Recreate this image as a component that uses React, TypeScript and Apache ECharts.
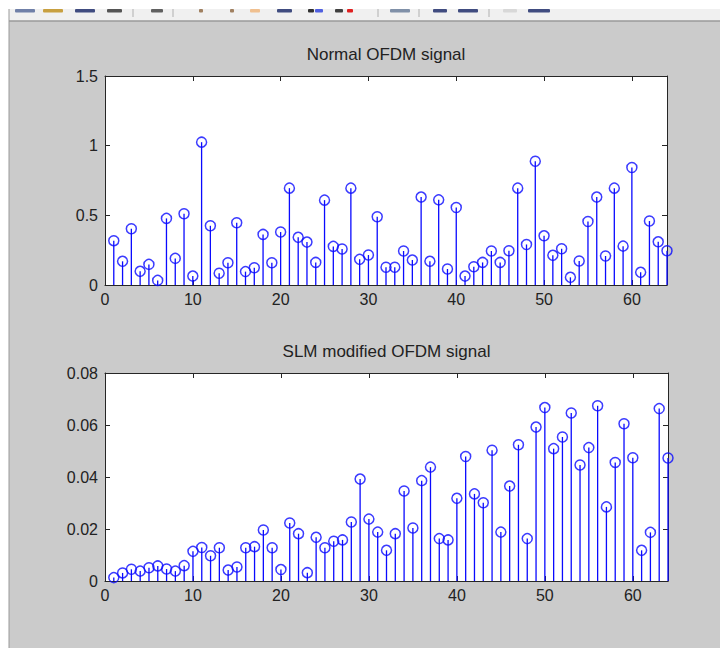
import React, { useEffect, useRef } from "react";
import * as echarts from "echarts";

const sampleIndex = Array.from({ length: 64 }, (_, i) => i + 1);

const normalValues = [
  0.318, 0.17, 0.404, 0.098, 0.148, 0.033, 0.478, 0.191, 0.511, 0.064,
  1.025, 0.425, 0.084, 0.16, 0.447, 0.096, 0.124, 0.363, 0.16, 0.38,
  0.695, 0.342, 0.308, 0.162, 0.609, 0.277, 0.258, 0.695, 0.184, 0.215,
  0.49, 0.127, 0.127, 0.244, 0.179, 0.631, 0.17, 0.611, 0.115, 0.556,
  0.064, 0.131, 0.162, 0.244, 0.162, 0.246, 0.695, 0.291, 0.888, 0.353,
  0.213, 0.26, 0.055, 0.172, 0.456, 0.631, 0.208, 0.695, 0.279, 0.843,
  0.091, 0.459, 0.31, 0.246,
];

const slmValues = [
  0.0013, 0.0031, 0.0045, 0.0038, 0.0051, 0.0058, 0.0046, 0.0038, 0.0059, 0.0114,
  0.0129, 0.0097, 0.0128, 0.0042, 0.0054, 0.0128, 0.0132, 0.0196, 0.0128, 0.0044,
  0.0223, 0.0182, 0.0032, 0.0168, 0.0128, 0.0153, 0.0158, 0.0227, 0.0392, 0.0238,
  0.0188, 0.0118, 0.0182, 0.0346, 0.0204, 0.0386, 0.0438, 0.0163, 0.0158, 0.0318,
  0.0479, 0.0335, 0.0301, 0.0503, 0.0188, 0.0365, 0.0524, 0.0163, 0.0592, 0.0667,
  0.0509, 0.0554, 0.0646, 0.0446, 0.0513, 0.0674, 0.0285, 0.0456, 0.0605, 0.0474,
  0.0118, 0.0187, 0.0663, 0.0473,
];

const xTicks = [0, 10, 20, 30, 40, 50, 60];
const topYTicks = [0, 0.5, 1, 1.5];
const bottomYTicks = [0, 0.02, 0.04, 0.06, 0.08];
const titles = ["Normal OFDM signal", "SLM modified OFDM signal"];

const BLUE = "#0a0aff";
const AXIS = "#262626";
const FONT = "'Liberation Sans', Arial, sans-serif";

export default function App() {
  const ref = useRef<HTMLDivElement>(null);

  useEffect(() => {
    if (!ref.current) return;
    const chart = echarts.init(ref.current, null, { renderer: "svg" });

    const grids = [
      { left: 105, top: 76, width: 562, height: 209 },
      { left: 105, top: 373, width: 563, height: 208 },
    ];
    const yTickSets = [topYTicks, bottomYTicks];
    const dataSets = [normalValues, slmValues];

    const xAxis: any[] = [];
    const yAxis: any[] = [];
    const series: any[] = [];

    grids.forEach((g, gi) => {
      const ticks = yTickSets[gi];
      const yMax = ticks[ticks.length - 1];
      ["bottom", "top"].forEach((pos, k) => {
        xAxis.push({
          type: "value",
          gridIndex: gi,
          position: pos,
          min: 0,
          max: 64,
          splitLine: { show: false },
          axisLine: { show: true, onZero: false, lineStyle: { color: AXIS, width: 1 } },
          axisTick: { show: true, inside: true, length: 5, customValues: xTicks, lineStyle: { color: AXIS } },
          axisLabel: {
            show: k === 0,
            customValues: xTicks,
            color: "#222",
            fontSize: 16,
            fontFamily: FONT,
            margin: 6,
          },
        });
      });
      ["left", "right"].forEach((pos, k) => {
        yAxis.push({
          type: "value",
          gridIndex: gi,
          position: pos,
          min: 0,
          max: yMax,
          splitLine: { show: false },
          axisLine: { show: true, onZero: false, lineStyle: { color: AXIS, width: 1 } },
          axisTick: { show: true, inside: true, length: 5, customValues: ticks, lineStyle: { color: AXIS } },
          axisLabel: {
            show: k === 0,
            customValues: ticks,
            color: "#222",
            fontSize: 16,
            fontFamily: FONT,
            margin: 7,
          },
        });
      });
      const data = sampleIndex.map((x, i) => [x, dataSets[gi][i]]);
      series.push({
        type: "custom",
        xAxisIndex: gi * 2,
        yAxisIndex: gi * 2,
        data,
        clip: false,
        renderItem: (params: any, api: any) => {
          const x = api.value(0);
          const y = api.value(1);
          const p0 = api.coord([x, 0]);
          const p1 = api.coord([x, y]);
          return {
            type: "line",
            shape: { x1: p0[0], y1: p0[1], x2: p1[0], y2: p1[1] },
            style: { stroke: BLUE, lineWidth: 1.3 },
          };
        },
        z: 3,
      });
      series.push({
        type: "scatter",
        xAxisIndex: gi * 2,
        yAxisIndex: gi * 2,
        data,
        symbol: "circle",
        symbolSize: 10,
        clip: false,
        itemStyle: { color: "rgba(0,0,0,0)", borderColor: BLUE, borderWidth: 1.5 },
        z: 4,
      });
    });

    const toolbarIcons = [
      { x: 15, w: 20, c: "#7080a8" },
      { x: 43, w: 20, c: "#c8a040" },
      { x: 75, w: 20, c: "#404c80" },
      { x: 107, w: 15, c: "#555555" },
      { x: 151, w: 12, c: "#606060" },
      { x: 199, w: 4, c: "#a08060" },
      { x: 230, w: 4, c: "#a08060" },
      { x: 250, w: 10, c: "#f0c090" },
      { x: 277, w: 15, c: "#404c80" },
      { x: 308, w: 6, c: "#303030" },
      { x: 315, w: 8, c: "#5060e0" },
      { x: 335, w: 8, c: "#404040" },
      { x: 347, w: 6, c: "#e02020" },
      { x: 390, w: 20, c: "#8090a8" },
      { x: 433, w: 14, c: "#404c80" },
      { x: 458, w: 20, c: "#404c80" },
      { x: 503, w: 14, c: "#d8d8d8" },
      { x: 528, w: 22, c: "#404c80" },
    ];
    const separators = [133, 173, 378, 419, 489];

    const graphic: any[] = [
      { type: "rect", shape: { x: 0, y: 0, width: 720, height: 21 }, style: { fill: "#f0f0f0" }, silent: true },
      { type: "rect", shape: { x: 0, y: 0, width: 720, height: 9 }, style: { fill: "#ffffff" }, silent: true },
      { type: "rect", shape: { x: 0, y: 0, width: 9, height: 648 }, style: { fill: "#ffffff" }, silent: true },
      { type: "line", shape: { x1: 9, y1: 21, x2: 720, y2: 21 }, style: { stroke: "#9a9a9a", lineWidth: 1.5 }, silent: true },
      { type: "line", shape: { x1: 9, y1: 9, x2: 9, y2: 648 }, style: { stroke: "#9a9a9a", lineWidth: 1 }, silent: true },
      ...toolbarIcons.map((ic) => ({
        type: "rect",
        shape: { x: ic.x, y: 9, width: ic.w, height: 3.5, r: 1 },
        style: { fill: ic.c },
        silent: true,
      })),
      ...separators.map((sx) => ({
        type: "line",
        shape: { x1: sx, y1: 9, x2: sx, y2: 17 },
        style: { stroke: "#b0b0b0", lineWidth: 1 },
        silent: true,
      })),
      ...titles.map((t, i) => ({
        type: "text",
        x: grids[i].left + grids[i].width / 2,
        y: grids[i].top - 22,
        style: {
          text: t,
          fill: "#222",
          font: `17px ${FONT}`,
          textAlign: "center",
          textVerticalAlign: "middle",
        },
        silent: true,
      })),
    ];

    chart.setOption({
      animation: false,
      backgroundColor: "#cbcbcb",
      grid: grids.map((g) => ({ ...g, show: true, backgroundColor: "#ffffff", borderWidth: 0 })),
      xAxis,
      yAxis,
      series,
      graphic,
    });

    return () => chart.dispose();
  }, []);

  return (
    <div
      ref={ref}
      style={{ position: "fixed", left: 0, top: 0, width: 720, height: 648 }}
    />
  );
}
